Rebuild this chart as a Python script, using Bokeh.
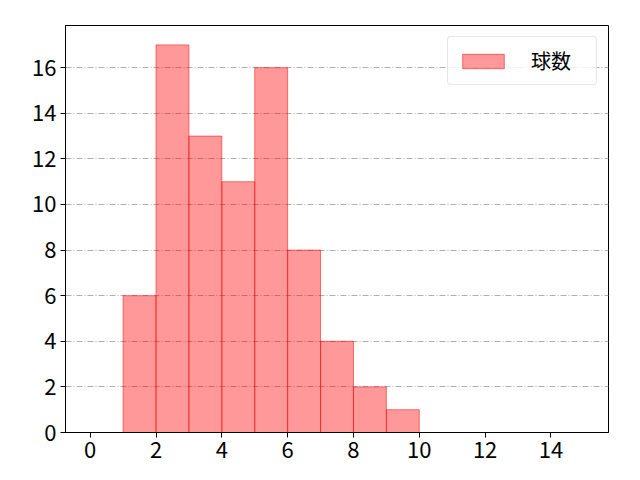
from bokeh.models import ColumnDataSource, Legend, LegendItem, FixedTicker, Range1d
from bokeh.plotting import figure
from bokeh.embed import file_html
from bokeh.resources import INLINE

# histogram bins and counts
bin_left = [1, 2, 3, 4, 5, 6, 7, 8, 9]
bin_right = [2, 3, 4, 5, 6, 7, 8, 9, 10]
counts = [6, 17, 13, 11, 16, 8, 4, 2, 1]
label = "球数"

x_ticks = [0, 2, 4, 6, 8, 10, 12, 14]
y_ticks = [0, 2, 4, 6, 8, 10, 12, 14, 16]

source = ColumnDataSource(dict(left=bin_left, right=bin_right, top=counts,
                               bottom=[0] * len(counts)))

font = "Noto Sans CJK JP"

p = figure(width=624, height=464, output_backend="svg", toolbar_location=None,
           x_range=Range1d(-0.75, 15.75), y_range=Range1d(0, 17.85),
           min_border_left=65, min_border_right=16, min_border_top=25,
           min_border_bottom=32)

r = p.quad(left="left", right="right", top="top", bottom="bottom", source=source,
           fill_color="red", fill_alpha=0.4, line_color="red", line_alpha=0.5,
           line_width=1)

p.xgrid.visible = False
p.ygrid.grid_line_color = "#b0b0b0"
p.ygrid.grid_line_dash = "6 2 1 2"
p.ygrid.grid_line_width = 1

for ax in (p.xaxis[0], p.yaxis[0]):
    ax.major_label_text_font = font
    ax.major_label_text_font_size = "22px"
    ax.major_label_text_color = "black"
    ax.axis_line_color = "black"
    ax.major_tick_line_color = "black"
    ax.major_tick_out = 5
    ax.major_tick_in = 0
    ax.minor_tick_line_color = None
    ax.major_label_standoff = 4

p.xaxis[0].ticker = FixedTicker(ticks=x_ticks)
p.yaxis[0].ticker = FixedTicker(ticks=y_ticks)

p.outline_line_color = "black"
p.outline_line_alpha = 1
p.outline_line_width = 1
p.background_fill_color = "white"

legend = Legend(items=[LegendItem(label=label, renderers=[r])],
                location="top_right")
legend.label_text_font = font
legend.label_text_font_size = "20px"
legend.label_text_color = "black"
legend.glyph_width = 52
legend.glyph_height = 18
legend.label_standoff = 22
legend.label_width = 56
legend.padding = 9
legend.spacing = 0
legend.margin = 11
legend.border_line_color = "#d0d0d0"
legend.border_radius = 4
legend.background_fill_alpha = 0.8
p.add_layout(legend)

open("out.html", "w").write(file_html(p, INLINE))
